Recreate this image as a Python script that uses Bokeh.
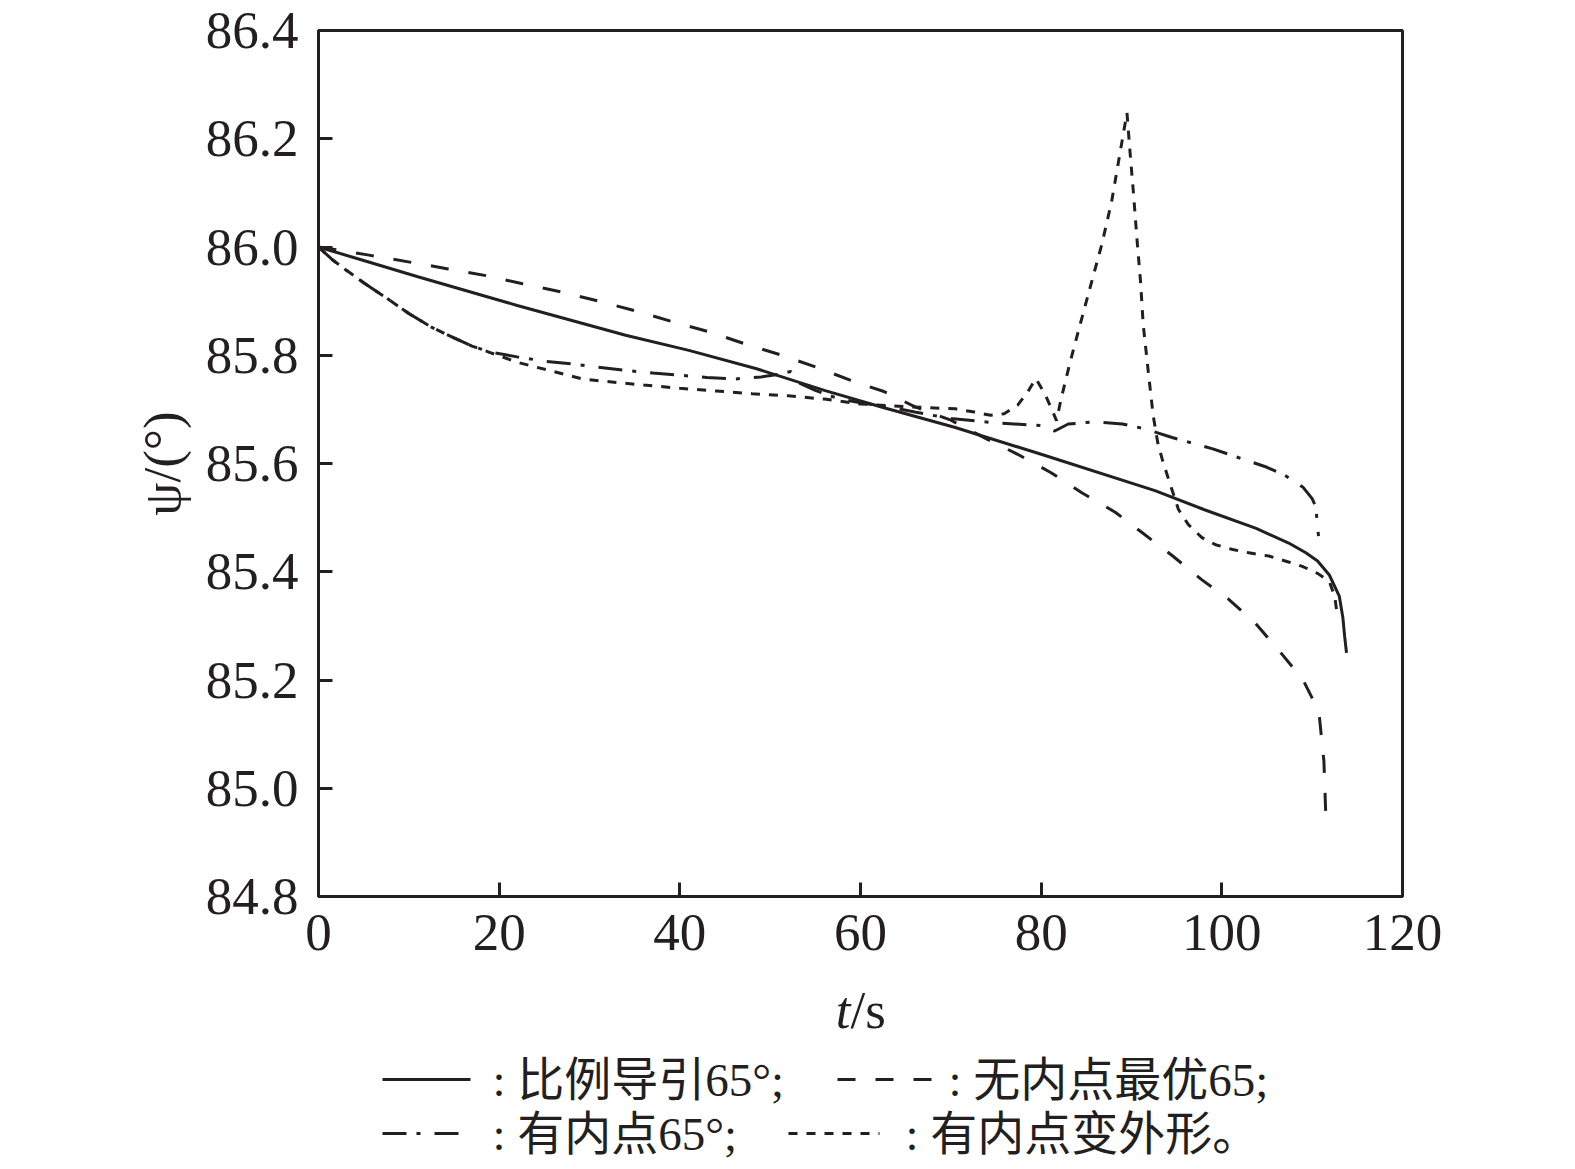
from bokeh.plotting import figure
from bokeh.layouts import column
from bokeh.models import Range1d, FixedTicker
from bokeh.core.properties import value
from bokeh.embed import file_html
from bokeh.resources import INLINE

# --- data ---
t_pn = [0, 5, 11, 22, 34, 41, 48.5, 56, 62.6, 70.4, 80, 92.6, 98, 103.8, 107.4,
        109.3, 110.6, 111.9, 113.0, 113.4, 113.6, 113.8]
psi_pn = [86.0, 85.975, 85.945, 85.892, 85.837, 85.809, 85.775, 85.735, 85.703, 85.667,
          85.617, 85.55, 85.515, 85.48, 85.453, 85.435, 85.42, 85.394, 85.355, 85.315,
          85.28, 85.25]

t_opt = [0, 5.6, 9.8, 14.2, 18.6, 22.6, 26.9, 31, 35.1, 39.2, 43.3, 47.2, 51.1, 55.1, 59,
         62.6, 66, 70, 74, 77.4, 81.1, 84.5, 88.2, 91.2, 94.5, 97.8, 100.7, 103.7, 106.3,
         109, 110.2, 110.8, 111.3, 111.5]
psi_opt = [86.0, 85.985, 85.973, 85.96, 85.947, 85.932, 85.917, 85.9, 85.882, 85.862,
           85.843, 85.821, 85.801, 85.778, 85.753, 85.733, 85.705, 85.68, 85.645, 85.617,
           85.583, 85.546, 85.51, 85.472, 85.43, 85.385, 85.35, 85.305, 85.255, 85.2,
           85.16, 85.132, 85.05, 84.955]

t_ip = [0, 1.5, 3, 5, 7.5, 10, 12.5, 15, 17, 19, 22, 25, 28, 31, 34, 37, 40, 43, 46, 49,
        51, 52.3, 53.3, 55, 57.5, 60, 63, 66, 70, 75, 80, 81.5, 83, 86, 89, 91.5, 94.5, 99,
        102, 105, 107, 109, 110, 110.4, 110.7]
psi_ip = [86.0, 85.977, 85.958, 85.934, 85.906, 85.877, 85.852, 85.832, 85.817, 85.806,
          85.797, 85.789, 85.784, 85.778, 85.772, 85.767, 85.763, 85.759, 85.756, 85.76,
          85.765, 85.77, 85.748, 85.735, 85.72, 85.712, 85.705, 85.695, 85.683, 85.675,
          85.67, 85.66, 85.673, 85.677, 85.673, 85.664, 85.648, 85.627, 85.61, 85.593,
          85.578, 85.556, 85.535, 85.52, 85.466]

t_shape = [0, 1.5, 3, 5, 7.5, 10, 12.5, 15, 17, 19, 22, 26, 29.3, 33.4, 36, 40, 44, 48,
           52, 56, 60, 65, 70.5, 72.6, 74.4, 75.9, 77.4, 78.5, 79.4, 80.4, 81.3, 81.7,
           82.2, 83.2, 84.3, 85.4, 86.7, 87.8, 88.7, 89.5, 89.8, 90.2, 90.6, 91.0, 91.3,
           91.9, 92.4, 92.9, 93.4, 94.1, 95.2, 96.3, 97.8, 99.3, 101.2, 103, 105.2, 107.2,
           108.9, 110.6, 111.9, 112.5, 112.8]
psi_shape = [86.0, 85.977, 85.958, 85.934, 85.906, 85.877, 85.852, 85.832, 85.817, 85.805,
             85.787, 85.77, 85.756, 85.749, 85.745, 85.739, 85.734, 85.729, 85.725, 85.719,
             85.71, 85.705, 85.701, 85.695, 85.689, 85.692, 85.708, 85.732, 85.757, 85.729,
             85.695, 85.679, 85.719, 85.787, 85.856, 85.924, 86.004, 86.084, 86.171, 86.248,
             86.183, 86.103, 86.016, 85.936, 85.856, 85.763, 85.689, 85.639, 85.608, 85.571,
             85.515, 85.487, 85.463, 85.45, 85.441, 85.435, 85.429, 85.419, 85.41, 85.397,
             85.382, 85.354, 85.317]

x_ticks = [0, 20, 40, 60, 80, 100, 120]
y_ticks = [84.8, 85.0, 85.2, 85.4, 85.6, 85.8, 86.0, 86.2, 86.4]
legend_labels = [": 比例导引65°;", ": 无内点最优65;", ": 有内点65°;", ": 有内点变外形。"]

SERIF = "Liberation Serif"
MIXED = "Liberation Serif, Noto Sans CJK SC"
INK = "#231f20"
DASHES = [None, "18 20", "24 10 4 14", "9 9"]
LW = 3

W = 1555
FL, FW, FH = 318, 1084, 866
MAIN_BOTTOM = 86
p = figure(output_backend="svg", toolbar_location=None,
           frame_width=FW, frame_height=FH,
           min_border_left=FL, min_border_right=W - FL - FW,
           min_border_top=30, min_border_bottom=MAIN_BOTTOM,
           x_range=Range1d(0, 120), y_range=Range1d(84.8, 86.4),
           background_fill_color="white", border_fill_color="white")
p.outline_line_color = INK
p.outline_line_width = 3
p.grid.visible = False

for ax in (p.xaxis[0], p.yaxis[0]):
    ax.axis_line_color = INK
    ax.axis_line_width = 3
    ax.major_tick_line_color = INK
    ax.major_tick_line_width = 3
    ax.major_tick_in = 14
    ax.major_tick_out = 0
    ax.minor_tick_line_color = None
    ax.major_label_text_font = SERIF
    ax.major_label_text_font_size = "53px"
    ax.major_label_text_color = INK
    ax.axis_label_text_font = SERIF
    ax.axis_label_text_font_size = "53px"
    ax.axis_label_text_font_style = "normal"
    ax.axis_label_text_color = INK

p.xaxis.ticker = FixedTicker(ticks=x_ticks)
p.yaxis.ticker = FixedTicker(ticks=y_ticks)
p.yaxis.major_label_overrides = {v: f"{v:.1f}" for v in y_ticks}
p.xaxis.major_label_standoff = 18
p.yaxis.major_label_standoff = 20
p.yaxis.axis_label = "ψ/(°)"
p.yaxis.axis_label_standoff = 12

series_t = [t_pn, t_opt, t_ip, t_shape]
series_y = [psi_pn, psi_opt, psi_ip, psi_shape]
for ts, ys, dash in zip(series_t, series_y, DASHES):
    kw = dict(line_color=INK, line_width=LW)
    if dash:
        kw["line_dash"] = dash
    p.line(ts, ys, **kw)

# --- strip below the chart: x-axis title and legend (page-pixel coordinates) ---
LH = 180
lg = figure(output_backend="svg", toolbar_location=None,
            frame_width=FW, frame_height=LH,
            min_border_left=FL, min_border_right=W - FL - FW,
            min_border_top=0, min_border_bottom=0,
            x_range=Range1d(FL, FL + FW), y_range=Range1d(0, LH),
            background_fill_color="white", border_fill_color="white")
lg.axis.visible = False
lg.grid.visible = False
lg.outline_line_color = None

# x-axis title "t/s" with italic t
lg.text(x=[850], y=[LH - 27], text=["t"], text_font=value(SERIF), text_font_size="53px",
        text_font_style="italic", text_color=INK, text_baseline="middle", text_align="right")
lg.text(x=[850], y=[LH - 27], text=["/s"], text_font=value(SERIF), text_font_size="53px",
        text_color=INK, text_baseline="middle", text_align="left")

sample_x0 = [382, 837, 382, 788]
sample_x1 = [470, 937, 464, 879]
row_y = [LH - 97, LH - 97, LH - 151, LH - 151]
text_x = [492, 948, 492, 905]
for i in range(4):
    kw = dict(line_color=INK, line_width=LW)
    if DASHES[i]:
        kw["line_dash"] = DASHES[i]
    lg.line([sample_x0[i], sample_x1[i]], [row_y[i], row_y[i]], **kw)
lg.text(x=text_x, y=row_y, text=legend_labels, text_font=value(MIXED),
        text_font_size="47px", text_color=INK, text_baseline="middle", text_align="left")

layout = column(p, lg, spacing=0)
open("out.html", "w").write(file_html(layout, INLINE))
